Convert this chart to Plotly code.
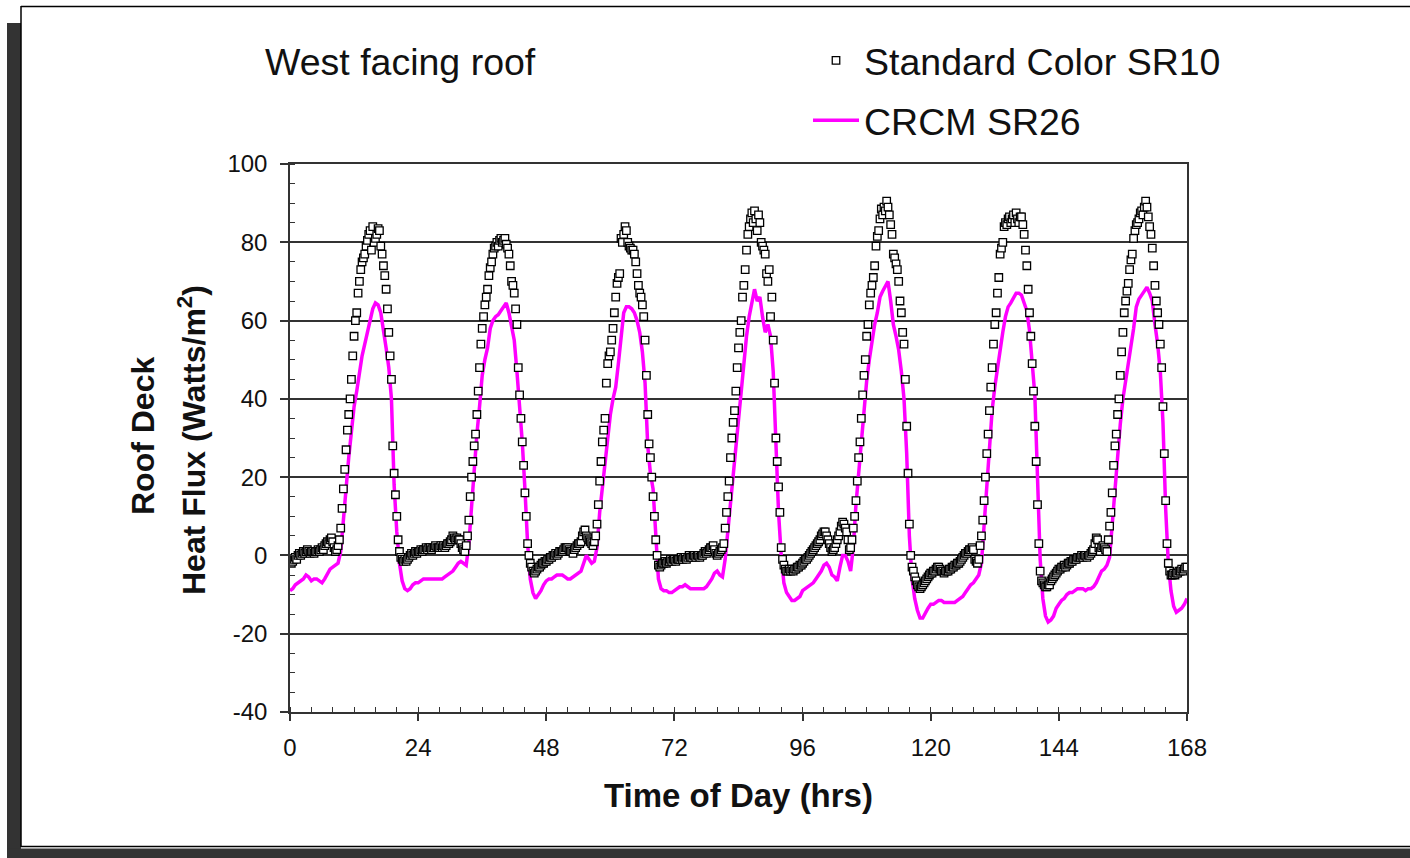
import plotly.graph_objects as go

# ---------------- data ----------------
# Standard Color SR10 (open squares), sampled every 0.25 h from 0 to 168 h
sr10_flux = [
    # day 1 (0 - 23.75 h)
    -1.5, -2, -1.5, -1, -0.5, -1, 0, 0.5,
    0, 0.5, 1, 0.5, 1, 1.5, 1, 0.5,
    1, 1, 0.5, 1, 1, 1.5, 1, 1.5,
    2, 1.5, 2.5, 3, 3.5, 3, 4, 4.5,
    3.5, 2, 1, 1.5, 2.5, 4, 7, 12,
    17, 22, 27, 32, 36, 40, 45, 51,
    56, 60, 62, 67, 70, 73, 75, 76,
    77, 79, 80.5, 82, 83, 78, 84, 80,
    81, 82, 83.5, 83, 79, 77, 74, 71.5,
    68, 63, 57, 51, 45, 28, 21, 15.5,
    10, 4, 1, -0.5, -1, -1.5, -1, -1.5,
    -1, -0.5, 0, 0.5, 0, 0.5, 1, 0.5,
    # day 2 (24 - 47.75 h)
    1, 1, 1.5, 1, 1.5, 1.5, 2, 1.5,
    2, 2, 1.5, 2, 2, 2.5, 2, 2,
    2, 2.5, 2, 2.5, 2, 2.5, 3, 3,
    3.5, 4, 5, 4.5, 4, 4.5, 4, 4,
    3, 2, 1.5, 1, 2.5, 5, 9, 15,
    20, 24, 28, 31, 36, 42, 48, 54,
    58, 61, 64, 66, 68, 71.5, 73.5, 75,
    77, 78.5, 79, 80, 79, 80.5, 81, 80,
    80.5, 81, 79.5, 78.5, 77, 74, 70, 69,
    67, 63, 59, 48, 41, 35, 29, 23,
    16, 10, 3, 0, -2, -3, -4, -4.5,
    -4, -3.5, -3, -3, -2.5, -2, -2, -1.5,
    # day 3 (48 - 71.75 h)
    -1.5, -1, -1, -0.5, -0.5, 0, 0, 0.5,
    0, 0.5, 1, 1, 1, 1.5, 2, 2,
    2, 1.5, 1, 1, 0.5, 1.5, 2, 2.5,
    3, 3, 3.5, 5, 6, 6.5, 5, 4.5,
    4, 3.5, 3, 2.5, 3.5, 5, 8, 13,
    19, 24, 29, 32, 35, 44, 49, 51,
    52, 55, 58, 62, 66, 69.5, 71, 72,
    81, 80, 82, 84, 83, 80, 79, 78.5,
    78, 78, 77, 75, 72, 69, 67, 66,
    64, 61, 55, 46, 36, 28.5, 25, 20,
    15, 10, 4, 0, -2.5, -3, -2.5, -2,
    -2, -1.5, -2, -1.5, -1.5, -1, -1.5, -1,
    # day 4 (72 - 95.75 h)
    -1, -1.5, -1, -1, -1, -0.5, -1, -0.5,
    -0.5, -1, -0.5, 0, -0.5, -0.5, 0, 0,
    -0.5, 0, 0, -0.5, 0, 0, 0.5, 1,
    0.5, 1, 1.5, 2, 2, 2.5, 1.5, 0.5,
    0, 0.5, 1, 1.5, 2, 3, 7, 11,
    15, 19, 25, 30, 34, 37, 42, 48,
    53, 57, 60, 66, 69, 73, 78, 82,
    84, 86, 87.5, 85, 88, 86, 83, 87,
    85, 80, 79, 78, 77, 72, 70, 73,
    61, 66, 55, 44, 30, 24, 17.5, 11,
    2, -1, -2.5, -3.5, -4, -4, -3.5, -4,
    -3.5, -4, -3.5, -3.5, -3, -3, -2.5, -2.5,
    # day 5 (96 - 119.75 h)
    -2, -1.5, -1, -1, -0.5, 0, 0.5, 1,
    1.5, 2, 2.5, 3, 3.5, 4, 5, 5.5,
    6, 6, 5, 4, 3, 2, 1, 1.5,
    2, 3, 4, 5, 6, 7.5, 8.5, 8,
    7, 6, 4, 1.5, 2, 4, 7, 10,
    14, 19, 25, 29, 35, 41, 46, 50,
    56, 59, 64, 67, 69, 71, 74, 79,
    81.5, 83, 86, 88.5, 87, 89, 88, 90.5,
    89, 87, 84.5, 82, 77, 76, 74.5, 73,
    70, 65, 62, 57, 54, 45, 33, 21,
    8, 0, -3, -4, -5.5, -6.5, -7.5, -8,
    -8.5, -8, -7.5, -7, -6.5, -6, -5.5, -5,
    # day 6 (120 - 143.75 h)
    -4.5, -4.5, -4, -4, -3.5, -3, -3, -3.5,
    -4, -4, -4.5, -4, -4, -4, -3.5, -3.5,
    -3, -3, -2.5, -2.5, -2, -2, -1.5, -1,
    -0.5, 0, 0.5, 0.5, 1, 1.5, 1.5, 2,
    1.5, -1, -1.5, -2, -1, 2.5, 5, 9,
    14, 20, 26, 31, 37, 43, 48, 54,
    59, 62, 67, 71, 77, 78.5, 80, 84,
    85, 84.5, 86, 86.5, 85, 86, 87, 85,
    87.5, 86, 85, 86.5, 86.5, 84.5, 82, 78,
    74, 68, 62, 56, 49, 42, 33, 24,
    13, 3, -4, -6.5, -7, -7.5, -8, -8,
    -7.5, -7.5, -6.5, -6, -5.5, -5, -4.5, -4,
    # day 7 (144 - 168 h)
    -3.5, -3.5, -3, -3, -2.5, -3, -2.5, -2,
    -2, -1.5, -1.5, -1, -1, -1, -0.5, -0.5,
    -0.5, 0, -0.5, 0, 0, -0.5, 0, 0,
    0.5, 1, 1.5, 3, 4.5, 4, 2, 1,
    2, 2.5, 2, 1.5, 1, 4, 7.5, 11,
    16, 23, 28, 31, 36, 40, 46, 52,
    57, 62, 65, 67.5, 69.5, 73, 75.5, 77,
    81, 83, 84.5, 85, 86, 87.5, 88, 87,
    89, 90.5, 89, 86.5, 84, 82, 78.5, 74,
    69, 65, 62, 59, 54, 48, 38, 26,
    14, 3, -2, -4, -5, -5, -4.5, -5,
    -4.5, -4.5, -4, -4, -3.5, -4, -3.5, -3,
    -3,
]
hours_sr10 = [i * 0.25 for i in range(len(sr10_flux))]

# CRCM SR26 (magenta line), sampled every 0.5 h from 0 to 168 h
crcm_flux = [
    # day 1
    -9, -8.5, -7.5, -7, -6.5, -6, -5, -5.5,
    -6.5, -6, -6, -6.5, -7, -6, -4.5, -3.5,
    -3, -2.5, -2, 1, 8, 17, 25, 31,
    38, 42, 47, 51, 54, 57, 60, 63,
    64.5, 64, 62, 58, 53, 48, 40, 18,
    6, -2, -6.5, -8.5, -9, -8.5, -7.5, -7,
    # day 2
    -7, -6.5, -6, -6, -6, -6, -6, -6,
    -6, -6, -5.5, -5, -4.5, -4, -3, -2,
    -1.5, -2, -2.5, 3, 13, 23, 31, 38,
    46, 50, 53, 58, 60, 61, 61.5, 62.5,
    63.5, 64.5, 62, 59, 55, 47, 39, 29,
    17, 3, -6, -9.5, -11, -10, -9, -7.5,
    # day 3
    -6.5, -6, -6, -5.5, -5, -5, -5, -5.5,
    -6, -6, -5.5, -5, -4.5, -4, -2, 0,
    -1, -2, -1.5, 2, 11, 17, 23, 30,
    36, 40, 43, 49, 55, 62, 63.5, 63.5,
    63, 62, 60, 57, 52, 44, 28, 21,
    17, 6, -6, -8.5, -9, -9, -9.5, -9.5,
    # day 4
    -9, -8.5, -8, -8, -7.5, -8, -8.5, -8.5,
    -8.5, -8.5, -8.5, -8.5, -8, -7, -6, -4.5,
    -4, -5, -5.5, -1, 6, 14, 22, 29,
    35, 43, 50, 56, 61, 65, 68, 65,
    66, 61, 57, 59, 56, 47, 28, 11,
    0, -7, -9.5, -10.5, -11.5, -11.5, -11, -10.5,
    # day 5
    -9, -8.5, -8, -7.5, -7, -6, -5, -4,
    -2.5, -2, -3, -5, -5.5, -6.5, -3, 0,
    0, -1.5, -4, 2, 13, 21, 31, 38,
    44.5, 50, 55, 59, 62, 66, 67.5, 69,
    70, 65, 59, 56, 52.5, 47, 40, 26,
    5, -6, -11, -14, -16, -16, -14.5, -13.5,
    # day 6
    -12.5, -12.5, -12, -11.5, -11.5, -12, -12, -12,
    -12, -12, -11.5, -11, -10.5, -9.5, -8.5, -7.5,
    -7, -6, -5, -2, 7.5, 18, 28, 37,
    43, 48, 52, 57, 61, 63.5, 64.5, 66,
    67, 67, 66.5, 64.5, 62.5, 57.5, 50, 41,
    20, -1, -11, -15.5, -17, -16.5, -15.5, -13.5,
    # day 7
    -12.5, -11.5, -11, -10, -9.5, -9.5, -9, -8.5,
    -8.5, -8.5, -9, -8.5, -8.5, -8, -7, -5.5,
    -4, -3.5, -2.5, -0.5, 8, 18, 26, 33.5,
    40, 44.5, 49, 53, 58, 63.5, 65.5, 66.5,
    67.5, 68.5, 67, 65, 59, 54, 47, 34,
    12, -2, -9, -13, -14.5, -14, -13.5, -12.5,
    -11,
]
hours_crcm = [i * 0.5 for i in range(len(crcm_flux))]

x_ticks = [0, 24, 48, 72, 96, 120, 144, 168]
x_tick_labels = ["0", "24", "48", "72", "96", "120", "144", "168"]
y_ticks = [-40, -20, 0, 20, 40, 60, 80, 100]
y_tick_labels = ["-40", "-20", "0", "20", "40", "60", "80", "100"]

series_names = ["Standard Color SR10", "CRCM SR26"]
chart_title = "West facing roof"
x_title = "Time of Day (hrs)"
y_title_lines = ["Roof Deck", "Heat Flux (Watts/m<sup>2</sup>)"]

# ---------------- geometry helpers ----------------
W, H = 1410, 858
L, R, T, B = 290, 1187, 164, 712  # plot area pixels
pw, ph = R - L, B - T


def px(x):
    return (x - L) / pw


def py(y):
    return (B - y) / ph


FONT = "Arial, 'Liberation Sans', sans-serif"
TXT = "#111111"

fig = go.Figure()

fig.add_trace(go.Scatter(
    x=hours_crcm, y=crcm_flux, mode="lines", name=series_names[1],
    line=dict(color="#FF00FF", width=3.5),
    legendgroup="b", legendrank=2,
))
fig.add_trace(go.Scatter(
    x=hours_sr10, y=sr10_flux, mode="markers", name=series_names[0],
    marker=dict(symbol="square", size=7.5, color="white",
                line=dict(color="black", width=1.3)),
    legendgroup="a", legendrank=1,
))

axis_line = "#333333"

fig.update_xaxes(
    range=[0, 168], tickvals=x_ticks, ticktext=x_tick_labels,
    ticks="outside", ticklen=7, tickwidth=1.5, tickcolor=axis_line,
    showline=True, linecolor=axis_line, linewidth=1.5, mirror=True,
    showgrid=False, zeroline=False,
    minor=dict(dtick=4, ticks="inside", ticklen=5, tickwidth=1.2,
               tickcolor=axis_line, showgrid=False),
    tickfont=dict(family=FONT, size=24, color=TXT),
    ticklabelstandoff=6,
    title=dict(text="<b>" + x_title + "</b>", standoff=24,
               font=dict(family=FONT, size=33, color=TXT)),
)
fig.update_yaxes(
    range=[-40, 100], tickvals=y_ticks, ticktext=y_tick_labels,
    ticks="outside", ticklen=8, tickwidth=1.5, tickcolor=axis_line,
    showline=True, linecolor=axis_line, linewidth=1.5, mirror=True,
    showgrid=True, gridcolor=axis_line, gridwidth=1.5, zeroline=False,
    minor=dict(dtick=5, ticks="inside", ticklen=5, tickwidth=1.2,
               tickcolor=axis_line, showgrid=False),
    tickfont=dict(family=FONT, size=24, color=TXT),
    ticklabelstandoff=8,
)

annotations = [
    dict(text=chart_title, x=px(263), y=py(62), xref="paper", yref="paper",
         xanchor="left", yanchor="middle", showarrow=False,
         font=dict(family=FONT, size=37.5, color=TXT)),
    dict(text="<b>" + y_title_lines[0] + "</b>", x=px(143), y=py(436),
         xref="paper", yref="paper", xanchor="center", yanchor="middle",
         textangle=-90, showarrow=False,
         font=dict(family=FONT, size=32, color=TXT)),
    dict(text="<b>" + y_title_lines[1] + "</b>", x=px(192), y=py(440),
         xref="paper", yref="paper", xanchor="center", yanchor="middle",
         textangle=-90, showarrow=False,
         font=dict(family=FONT, size=32, color=TXT)),
]

shapes = [
    # dark shadow bands of the frame
    dict(type="rect", xref="paper", yref="paper", x0=px(7), x1=px(21),
         y0=py(858), y1=py(23), fillcolor="#333333", line=dict(width=0), layer="below"),
    dict(type="rect", xref="paper", yref="paper", x0=px(7), x1=px(1410),
         y0=py(858), y1=py(848.5), fillcolor="#333333", line=dict(width=0), layer="below"),
    # frame lines
    dict(type="line", xref="paper", yref="paper", x0=px(21), x1=px(1410),
         y0=py(6.5), y1=py(6.5), line=dict(color="black", width=1.5)),
    dict(type="line", xref="paper", yref="paper", x0=px(21), x1=px(21),
         y0=py(6), y1=py(847), line=dict(color="black", width=1.5)),
    dict(type="line", xref="paper", yref="paper", x0=px(21), x1=px(1410),
         y0=py(846.5), y1=py(846.5), line=dict(color="black", width=1.5)),
]

fig.update_layout(
    width=W, height=H,
    margin=dict(l=L, r=W - R, t=T, b=H - B, pad=0),
    paper_bgcolor="white", plot_bgcolor="white",
    showlegend=True,
    legend=dict(x=px(808), y=py(29.5), xanchor="left", yanchor="top",
                bgcolor="rgba(0,0,0,0)", borderwidth=0,
                font=dict(family=FONT, size=37.5, color=TXT),
                traceorder="grouped", tracegroupgap=8, itemwidth=46),
    annotations=annotations,
    shapes=shapes,
)

fig.write_html("out.html")
